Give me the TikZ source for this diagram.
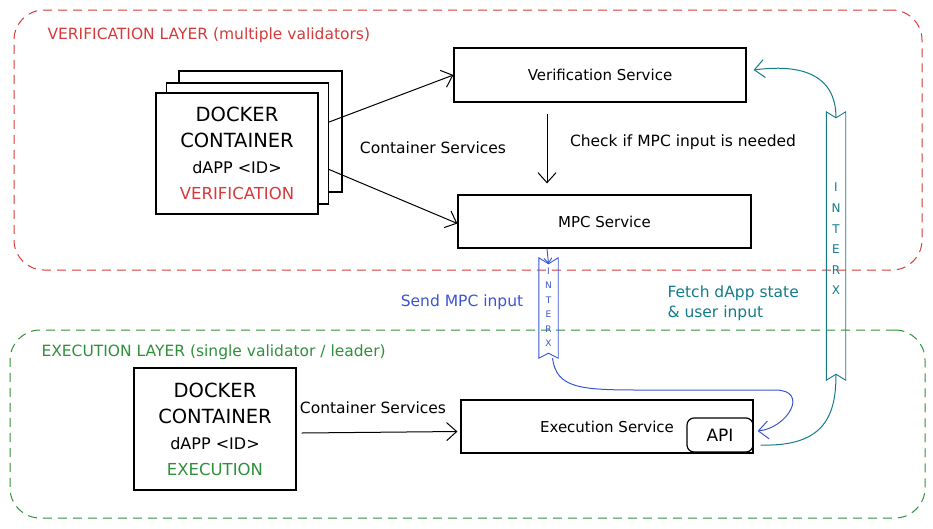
\documentclass[tikz,border=0pt]{standalone}
\usepackage{fontspec}
\setmainfont{DejaVu Sans}
\usetikzlibrary{arrows.meta,positioning,calc}
\definecolor{verred}{HTML}{D63A3A}
\definecolor{exgreen}{HTML}{2F8F3A}
\definecolor{mpcblue}{HTML}{3B55D0}
\definecolor{interteal}{HTML}{137B8A}

\begin{document}
\begin{tikzpicture} [x=1pt,y=-1pt,
		 layer/.style={draw,dash pattern=on 9pt off 6pt,rounded corners=30pt,line width=1pt},
		 service/.style={draw=black,line width=1.2pt,minimum width=292pt,minimum height=54pt,font=\fontsize{15}{17}\selectfont},
		 docker/.style={draw=black,line width=1.2pt,fill=white,minimum width=162pt,minimum height=121pt,align=center,
		 	font=\fontsize{19.5}{26}\selectfont},
		 apibox/.style={draw=black,line width=1.2pt,rounded corners=7pt,minimum width=66pt,minimum height=34pt,font=\fontsize{17}{19}\selectfont},
		 ribbon/.style={minimum width=19pt,inner sep=0pt},
		 flow/.style={-{Straight Barb[length=10pt,width=18pt]},line width=1pt},
		 note/.style={font=\fontsize{15.5}{20}\selectfont}]
\useasboundingbox (0,0) rectangle (933,528);

% layers
\node [layer,draw=verred,minimum width=908pt,minimum height=260pt] (verlayer) at (468,140) {};
\node [anchor=west,text=verred,note] (verlabel) at (44,35) {VERIFICATION LAYER (multiple validators)};
\node [layer,draw=exgreen,minimum width=915pt,minimum height=188pt] (exlayer) at (467.5,424) {};
\node [anchor=west,text=exgreen,note] (exlabel) at (38,352) {EXECUTION LAYER (single validator / leader)};

% docker containers
\node [docker,minimum width=163pt] (sheetb) at (260.5,131.5) {};
\node [docker] (sheetm) at (247.5,143.5) {};
\node [docker] (verdocker) at (237,153.5) {DOCKER\\CONTAINER\\{\fontsize{16}{26}\selectfont dAPP <ID>}\\
	{\fontsize{16.5}{26}\selectfont\color{verred}VERIFICATION}};
\node [docker,minimum height=122pt] (exdocker) at (215,429) {DOCKER\\CONTAINER\\{\fontsize{16}{26}\selectfont dAPP <ID>}\\
	{\fontsize{16.5}{26}\selectfont\color{exgreen}EXECUTION}};

% services
\node [service] (verif) at (600,75) {Verification Service};
\node [service,minimum width=293pt,minimum height=53pt] (mpc) at (604.5,221.5) {MPC Service};
\node [service,minimum height=53pt] (exec) at (607,426.5) {Execution Service\hspace{0pt}};
\node [apibox,anchor=south east] (api) at ([yshift=1pt]exec.south east) {API};

% interx ribbons
\node [ribbon,minimum height=100pt] (bluebanner) at (548.5,308) {};
\node [text=mpcblue,align=center,font=\fontsize{9}{14.5}\selectfont] (bluetext) at (548.5,307) {I\\N\\T\\E\\R\\X};
\node [ribbon,minimum height=268pt] (tealbanner) at (836,246) {};
\node [text=interteal,align=center,font=\fontsize{12}{20.6}\selectfont] (tealtext) at (836,239) {I\\N\\T\\E\\R\\X};
\draw [mpcblue,line width=0.9pt] (bluebanner.north west) -- ([yshift=-6pt]bluebanner.north) -- (bluebanner.north east)
	-- (bluebanner.south east) -- ([yshift=5pt]bluebanner.south) -- (bluebanner.south west) -- cycle;
\draw [interteal,line width=0.9pt] (tealbanner.north west) -- ([yshift=-6pt]tealbanner.north) -- (tealbanner.north east)
	-- (tealbanner.south east) -- ([yshift=6pt]tealbanner.south) -- (tealbanner.south west) -- cycle;

% connectors
\draw [flow] ([yshift=21.5pt]sheetm.east) -- (verif.west);
\draw [flow] ([yshift=-26pt]sheetm.east) -- ([yshift=-2pt]mpc.west);
\node [note] (contlabel) at (433,148) {Container Services};
\draw [flow] ([xshift=-53pt,yshift=-11pt]verif.south) -- ([xshift=-57.5pt,yshift=11pt]mpc.north);
\node [note] (checklabel) at (683,142) {Check if MPC input is needed};
\draw [flow] ([xshift=5pt,yshift=-4pt]exdocker.east) -- ([xshift=-3pt,yshift=-5pt]exec.west);
\node [note] (excontlabel) at (373,408) {Container Services};

\draw [-{Straight Barb[length=5pt,width=8pt]},mpcblue,line width=0.9pt] ([xshift=-57.5pt]mpc.south) -- ([yshift=-6pt]bluebanner.north);
\draw [flow,mpcblue] ([xshift=4pt]bluebanner.south) .. controls +(4,30) and +(-60,0) .. (640,390) -- (775,390)
	.. controls +(35,0) and +(30,-3) .. ([xshift=4pt,yshift=-4.5pt]exec.east);
\node [note,text=mpcblue] (sendlabel) at (462,302) {Send MPC input};

\draw [flow,interteal] ([yshift=-6pt]tealbanner.north) .. controls +(0,-45) and +(45,-6) .. ([xshift=7pt,yshift=5pt]verif.east);
\draw [interteal,line width=1pt] ([xshift=7pt,yshift=-10pt]api.east) .. controls +(65,2) and +(0,40) .. ([yshift=6pt]tealbanner.south);
\node [note,text=interteal,anchor=west,align=left] (fetchlabel) at (664,303) {Fetch dApp state\\\& user input};
\end{tikzpicture}
\end{document}
